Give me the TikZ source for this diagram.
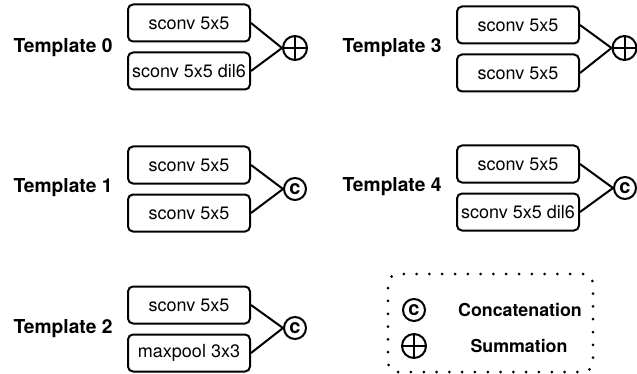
\documentclass[tikz,border=0pt]{standalone}
\usepackage{fontspec}
\setmainfont{TeX Gyre Heros}
\usetikzlibrary{positioning}

\begin{document}
\begin{tikzpicture}[x=0.5pt, y=-0.5pt, line width=1pt]
    \tikzset{OpBox/.style = {draw,
                             rounded corners = 2.5pt,
                             minimum width   = 61pt,
                             minimum height  = 18.5pt,
                             inner sep       = 0pt,
                             font            = \fontsize{9}{10}\selectfont}}
    \tikzset{TmplLabel/.style = {font = \fontsize{9.6}{11}\selectfont\bfseries}}
    \tikzset{LegendText/.style = {font = \fontsize{8.9}{10}\selectfont\bfseries}}
    \tikzset{SumOp/.style = {draw, circle,
                             minimum size = 12pt,
                             inner sep    = 0pt,
                             path picture = {
                               \draw (path picture bounding box.north) -- (path picture bounding box.south)
                                     (path picture bounding box.west)  -- (path picture bounding box.east);}}}
    \tikzset{CatOp/.style = {draw, circle,
                             minimum size = 11pt,
                             inner sep    = 0pt,
                             font         = \fontsize{10}{10}\selectfont\bfseries}}
    \tikzset{LegendBox/.style = {draw,
                                 line width      = 1.5pt,
                                 line cap        = round,
                                 dash pattern    = on 0pt off 6.4pt,
                                 rounded corners = 5pt}}
    \useasboundingbox (0,0) rectangle (637,374);

    % Template 0
    \node[TmplLabel] (lab0) at (63,48) {Template 0};
    \node[OpBox] (t0a) at (189,23) {sconv 5x5};
    \node[OpBox, below = 4.5pt of t0a] (t0b) {sconv 5x5 dil6};
    \node[SumOp] (t0op) at (295,48) {};
    \draw (t0a.east) -- (t0op.west);
    \draw (t0b.east) -- (t0op.west);

    % Template 1
    \node[TmplLabel] (lab1) at (63,188) {Template 1};
    \node[OpBox] (t1a) at (189,165) {sconv 5x5};
    \node[OpBox, below = 4.5pt of t1a] (t1b) {sconv 5x5};
    \node[CatOp] (t1op) at (295,189) {c};
    \draw (t1a.east) -- (t1op.west);
    \draw (t1b.east) -- (t1op.west);

    % Template 2
    \node[TmplLabel] (lab2) at (63,329) {Template 2};
    \node[OpBox] (t2a) at (189,305) {sconv 5x5};
    \node[OpBox, below = 4.5pt of t2a] (t2b) {maxpool 3x3};
    \node[CatOp] (t2op) at (295,328) {c};
    \draw (t2a.east) -- (t2op.west);
    \draw (t2b.east) -- (t2op.west);

    % Template 3
    \node[TmplLabel] (lab3) at (392,48) {Template 3};
    \node[OpBox] (t3a) at (518,25) {sconv 5x5};
    \node[OpBox, below = 4.5pt of t3a] (t3b) {sconv 5x5};
    \node[SumOp] (t3op) at (624.5,48) {};
    \draw (t3a.east) -- (t3op.west);
    \draw (t3b.east) -- (t3op.west);

    % Template 4
    \node[TmplLabel] (lab4) at (392,187) {Template 4};
    \node[OpBox] (t4a) at (518,164) {sconv 5x5};
    \node[OpBox, below = 4.5pt of t4a] (t4b) {sconv 5x5 dil6};
    \node[CatOp] (t4op) at (625,188) {c};
    \draw (t4a.east) -- (t4op.west);
    \draw (t4b.east) -- (t4op.west);

    % legend
    \node[LegendBox, minimum width = 102.5pt, minimum height = 49pt] (legend) at (490.5,323) {};
    \node[CatOp] (legcat) at (414,310) {c};
    \node[SumOp] (legsum) at (414,346) {};
    \node[LegendText] (legcattxt) at (520,310) {Concatenation};
    \node[LegendText] (legsumtxt) at (519,346) {Summation};
\end{tikzpicture}
\end{document}
